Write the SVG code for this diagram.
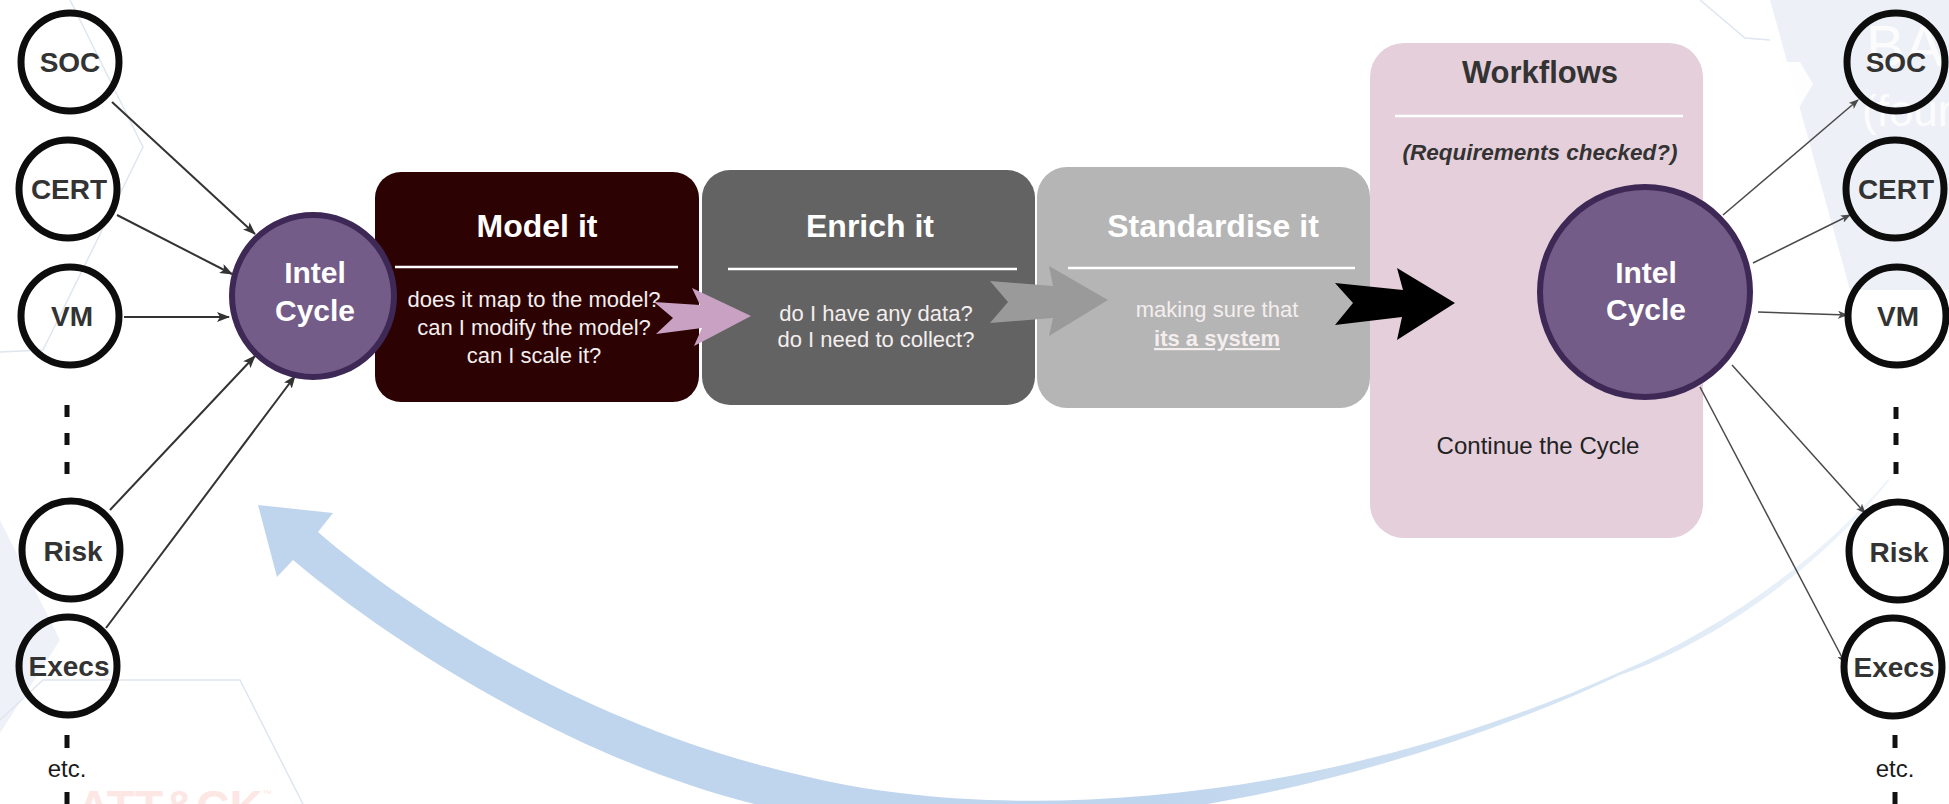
<svg xmlns="http://www.w3.org/2000/svg" width="1949" height="804" viewBox="0 0 1949 804">
  <defs>
    <style>
      .sans { font-family: "Liberation Sans", Arial, Helvetica, sans-serif; }
      .team-ring { fill: none; stroke: #0d0d0d; stroke-width: 7; }
      .team-label { font-family: "Liberation Sans", Arial, sans-serif; font-weight: bold; font-size: 28px; fill: #333333; text-anchor: middle; }
      .intel-ring { fill: #735c88; stroke: #3e2856; stroke-width: 6; }
      .intel-label { font-family: "Liberation Sans", Arial, sans-serif; font-weight: bold; font-size: 30px; fill: #ffffff; text-anchor: middle; }
      .step-title { font-family: "Liberation Sans", Arial, sans-serif; font-weight: bold; font-size: 32px; fill: #ffffff; text-anchor: middle; }
      .step-body { font-family: "Liberation Sans", Arial, sans-serif; font-size: 22px; fill: #f4eeee; text-anchor: middle; }
      .rule { stroke: #ffffff; stroke-width: 2.5; }
      .dash { stroke: #111111; stroke-width: 5; }
      .etc { font-family: "Liberation Sans", Arial, sans-serif; font-size: 24px; fill: #1a1a1a; text-anchor: middle; }
      .in-link { fill: none; stroke: #333333; stroke-width: 2; marker-end: url(#headIn); }
      .out-link { fill: none; stroke: #4a4a4a; stroke-width: 1.5; marker-end: url(#headOut); }
      .wm-line { fill: none; stroke: #dfe6f0; stroke-width: 1.5; }
    </style>
    <marker id="headIn" viewBox="0 0 13 10" refX="12" refY="5" markerWidth="13" markerHeight="10" markerUnits="userSpaceOnUse" orient="auto">
      <path d="M0,0 L13,5 L0,10 L3,5 Z" fill="#333333"/>
    </marker>
    <marker id="headOut" viewBox="0 0 10 8" refX="9" refY="4" markerWidth="10" markerHeight="8" markerUnits="userSpaceOnUse" orient="auto">
      <path d="M0,0 L10,4 L0,8 L2.5,4 Z" fill="#4a4a4a"/>
    </marker>
    <!-- the return arrow fades out towards its tail -->
    <linearGradient id="returnFade" gradientUnits="userSpaceOnUse" x1="250" y1="0" x2="1890" y2="0">
      <stop offset="0" stop-color="#bfd5ed" stop-opacity="1"/>
      <stop offset="0.55" stop-color="#bfd5ed" stop-opacity="1"/>
      <stop offset="0.8" stop-color="#c6dbef" stop-opacity="0.75"/>
      <stop offset="1" stop-color="#d2e1f1" stop-opacity="0.35"/>
    </linearGradient>
  </defs>

  <rect width="1949" height="804" fill="#ffffff"/>

  <!-- faint slide watermark behind the diagram -->
  <g id="watermark">
    <polygon points="1770,0 1949,0 1949,290 1850,290" fill="#edf1f7"/>
    <polygon points="1762,84 1775,62 1800,62 1813,84 1800,106 1775,106" fill="#ffffff" opacity="0.9"/>
    <polyline class="wm-line" points="1700,0 1745,38 1770,40"/>
    <polyline class="wm-line" points="70,0 143,147 43,350 0,352"/>
    <polygon points="0,520 60,640 0,733" fill="#eef2f8"/>
    <polyline class="wm-line" points="0,720 43,680 240,680 303,804"/>
    <text class="sans" x="77" y="823" font-size="46" font-weight="bold" fill="#fde7e4">ATT&amp;CK</text>
    <text class="sans" x="262" y="797" font-size="10" fill="#fde7e4">™</text>
    <text class="sans" x="1866" y="66" font-size="58" fill="#ffffff" opacity="0.85">BA</text>
    <text class="sans" x="1862" y="126" font-size="44" fill="#ffffff" opacity="0.85">(four</text>
  </g>

  <!-- large return arrow closing the cycle -->
  <g id="return-arrow">
    <path d="M 293 560 L 277 577 L 258 505 L 333 513 L 318 532
             C 420 620, 600 730, 800 775
             C 1000 825, 1320 808, 1620 672
             C 1720 630, 1820 560, 1888 479
             L 1889 481
             C 1822 564, 1722 639, 1620 675
             C 1320 815, 1000 848, 800 814
             C 600 777, 400 650, 293 560 Z" fill="url(#returnFade)"/>
  </g>

  <!-- process steps -->
  <g id="step-model">
    <rect x="375" y="172" width="324" height="230" rx="26" fill="#2d0202"/>
    <text class="step-title" x="537" y="237">Model it</text>
    <line class="rule" x1="395" y1="267" x2="678" y2="267"/>
    <text class="step-body" x="534" y="307" font-size="21.5">does it map to the model?</text>
    <text class="step-body" x="534" y="335" font-size="21.5">can I modify the model?</text>
    <text class="step-body" x="534" y="363" font-size="21.5">can I scale it?</text>
  </g>

  <g id="step-enrich">
    <rect x="702" y="170" width="333" height="235" rx="28" fill="#636363"/>
    <text class="step-title" x="870" y="237">Enrich it</text>
    <line class="rule" x1="728" y1="269" x2="1017" y2="269"/>
    <text class="step-body" x="876" y="321" font-size="23" fill="#eeeeee">do I have any data?</text>
    <text class="step-body" x="876" y="347" font-size="23" fill="#eeeeee">do I need to collect?</text>
  </g>

  <g id="step-standardise">
    <rect x="1037" y="167" width="333" height="241" rx="30" fill="#b5b5b5"/>
    <text class="step-title" x="1213" y="237" fill="#fafafa">Standardise it</text>
    <line class="rule" x1="1068" y1="268" x2="1355" y2="268"/>
    <text class="step-body" x="1217" y="317" font-size="24.5" fill="#f6f6f6">making sure that</text>
    <text class="step-body" x="1217" y="346" font-size="24.5" fill="#f6f6f6" font-weight="bold" text-decoration="underline">its a system</text>
  </g>

  <g id="step-workflows">
    <rect x="1370" y="43" width="333" height="495" rx="34" fill="#e4cfdb"/>
    <text class="sans" x="1540" y="83" font-size="31" font-weight="bold" fill="#333333" text-anchor="middle">Workflows</text>
    <line class="rule" x1="1395" y1="116" x2="1683" y2="116" stroke-width="3"/>
    <text class="sans" x="1540" y="160" font-size="22.5" font-weight="bold" font-style="italic" fill="#333333" text-anchor="middle">(Requirements checked?)</text>
    <text class="sans" x="1538" y="454" font-size="24" fill="#222222" text-anchor="middle">Continue the Cycle</text>
  </g>

  <!-- step-to-step arrows -->
  <g id="step-arrows">
    <path d="M 654 302 L 700 305 L 692 288 L 751 316 L 694 346 L 702 328 L 656 334 L 673 318 Z" fill="#c9a1c3"/>
    <path d="M 990 281 L 1053 286 L 1049 266 L 1108 300 L 1049 336 L 1053 318 L 990 323 L 1008 302 Z" fill="#9a9a9a"/>
    <path d="M 1335 283 L 1403 290 L 1397 268 L 1455 303 L 1397 340 L 1402 317 L 1335 325 L 1353 303 Z" fill="#000000"/>
  </g>

  <!-- team to cycle, and cycle to team connectors -->
  <g id="connectors">
    <line class="in-link" x1="112" y1="102" x2="255" y2="234"/>
    <line class="in-link" x1="117" y1="215" x2="232" y2="274"/>
    <line class="in-link" x1="124" y1="317" x2="229" y2="317"/>
    <line class="in-link" x1="110" y1="510" x2="255" y2="356"/>
    <line class="in-link" x1="106" y1="628" x2="295" y2="376"/>

    <line class="out-link" x1="1723" y1="215" x2="1858" y2="100"/>
    <line class="out-link" x1="1753" y1="263" x2="1850" y2="215"/>
    <line class="out-link" x1="1758" y1="312" x2="1847" y2="315"/>
    <line class="out-link" x1="1732" y1="365" x2="1865" y2="513"/>
    <line class="out-link" x1="1700" y1="387" x2="1845" y2="663"/>
  </g>

  <!-- intelligence cycle hubs -->
  <g id="intel-cycle-in">
    <circle class="intel-ring" cx="313" cy="296" r="81"/>
    <text class="intel-label" x="315" y="283">Intel</text>
    <text class="intel-label" x="315" y="321">Cycle</text>
  </g>
  <g id="intel-cycle-out">
    <circle class="intel-ring" cx="1645" cy="292" r="105"/>
    <text class="intel-label" x="1646" y="283">Intel</text>
    <text class="intel-label" x="1646" y="320">Cycle</text>
  </g>

  <!-- consumer teams, left column -->
  <g id="team-soc-in">
    <circle class="team-ring" cx="70" cy="62" r="49"/>
    <text class="team-label" x="70" y="72">SOC</text>
  </g>
  <g id="team-cert-in">
    <circle class="team-ring" cx="68" cy="189" r="49"/>
    <text class="team-label" x="69" y="199">CERT</text>
  </g>
  <g id="team-vm-in">
    <circle class="team-ring" cx="70" cy="316" r="49"/>
    <text class="team-label" x="72" y="326">VM</text>
  </g>
  <g id="team-risk-in">
    <circle class="team-ring" cx="71" cy="550" r="49"/>
    <text class="team-label" x="73" y="561">Risk</text>
  </g>
  <g id="team-execs-in">
    <circle class="team-ring" cx="68" cy="666" r="49"/>
    <text class="team-label" x="69" y="676">Execs</text>
  </g>
  <g id="more-in">
    <line class="dash" x1="67" y1="405" x2="67" y2="417"/>
    <line class="dash" x1="67" y1="433" x2="67" y2="445"/>
    <line class="dash" x1="67" y1="462" x2="67" y2="474"/>
    <line class="dash" x1="67" y1="735" x2="67" y2="748"/>
    <text class="etc" x="67" y="777">etc.</text>
    <line class="dash" x1="67" y1="792" x2="67" y2="804"/>
  </g>

  <!-- consumer teams, right column -->
  <g id="team-soc-out">
    <circle class="team-ring" cx="1896" cy="62" r="49"/>
    <text class="team-label" x="1896" y="72">SOC</text>
  </g>
  <g id="team-cert-out">
    <circle class="team-ring" cx="1895" cy="189" r="49"/>
    <text class="team-label" x="1896" y="199">CERT</text>
  </g>
  <g id="team-vm-out">
    <circle class="team-ring" cx="1897" cy="316" r="49"/>
    <text class="team-label" x="1898" y="326">VM</text>
  </g>
  <g id="team-risk-out">
    <circle class="team-ring" cx="1898" cy="551" r="49"/>
    <text class="team-label" x="1899" y="562">Risk</text>
  </g>
  <g id="team-execs-out">
    <circle class="team-ring" cx="1893" cy="667" r="49"/>
    <text class="team-label" x="1894" y="677">Execs</text>
  </g>
  <g id="more-out">
    <line class="dash" x1="1896" y1="407" x2="1896" y2="419"/>
    <line class="dash" x1="1896" y1="433" x2="1896" y2="445"/>
    <line class="dash" x1="1896" y1="462" x2="1896" y2="474"/>
    <line class="dash" x1="1895" y1="735" x2="1895" y2="748"/>
    <text class="etc" x="1895" y="777">etc.</text>
    <line class="dash" x1="1895" y1="792" x2="1895" y2="804"/>
  </g>
</svg>
